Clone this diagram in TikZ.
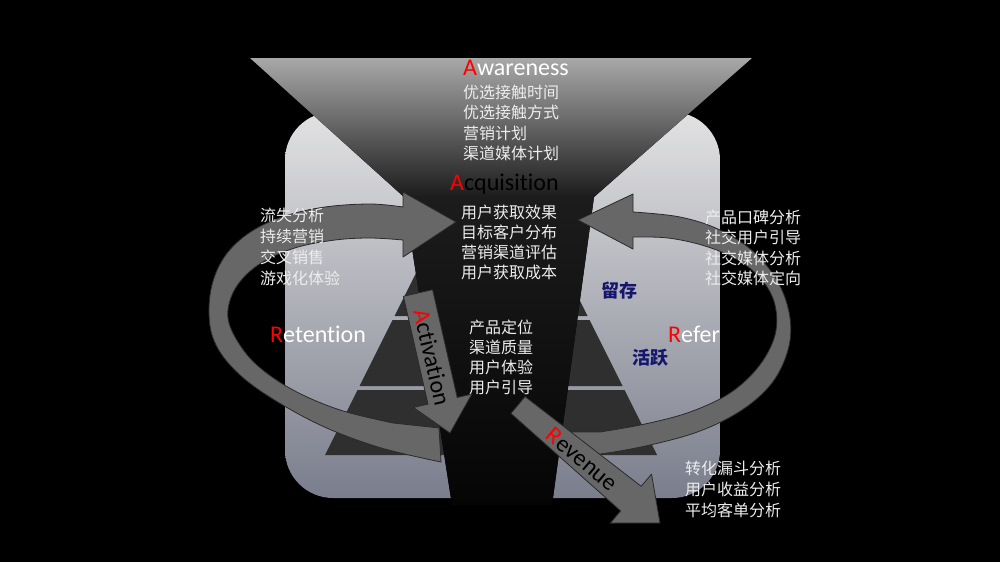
\documentclass[tikz,border=0pt]{standalone}
\usepackage{fontspec}
\setmainfont{Carlito}[Ligatures=NoCommon]
\newfontfamily\cjk{Noto Sans CJK SC}
\definecolor{arcfill}{HTML}{676767}
\definecolor{arcedge}{HTML}{2A2A2A}
\definecolor{pyr}{HTML}{2F2F2F}
\definecolor{navy}{HTML}{16166E}
\definecolor{cjkw}{HTML}{EDEDED}
\definecolor{panTop}{HTML}{E2E2E3}
\definecolor{panMid}{HTML}{BCBEC6}
\definecolor{panBot}{HTML}{7A7D8C}
\definecolor{funTop}{HTML}{A8A8A8}
\definecolor{funBot}{HTML}{1C1C1C}
\definecolor{stemTop}{HTML}{1C1C1C}
\definecolor{stemBot}{HTML}{050505}
\tikzset{
  band/.style={fill=arcfill, draw=arcedge, line width=0.8pt, line join=round},
  cjktxt/.style={font=\cjk\fontsize{16}{19}\selectfont, text=cjkw, inner sep=0pt, anchor=base west},
  entxt/.style={font=\fontsize{24}{28}\selectfont, inner sep=0pt, anchor=base west},
  arrtxt/.style={font=\fontsize{24}{28}\selectfont, inner sep=0pt, text=black},
  bluelbl/.style={font=\cjk\bfseries\fontsize{18}{20}\selectfont, text=navy, inner sep=0pt},
}
\begin{document}
\begin{tikzpicture}[x=1pt,y=-1pt]
% background
\fill[black] (0,0) rectangle (1000,562);
\useasboundingbox (0,0) rectangle (1000,562);
% panel
\fill[top color=panTop, middle color=panMid, bottom color=panBot, rounded corners=48pt] (285,112) rectangle (720,498);
% pyramid
\fill[pyr] (491,123) -- (587.5,316) -- (394.5,316) -- cycle;
\fill[pyr] (392.5,320) -- (589.5,320) -- (622.5,386) -- (359.5,386) -- cycle;
\fill[pyr] (357.5,390) -- (624.5,390) -- (657,455) -- (325,455) -- cycle;
% funnel
\fill[top color=funTop, bottom color=funBot] (250,58) -- (752,58) -- (594,197) -- (404,197) -- cycle;
\fill[top color=stemTop, bottom color=stemBot] (404,197) -- (594,197) -- (552,505) -- (452,505) -- cycle;
% left loop (Retention)
\path[band] plot[smooth, tension=0.6] coordinates {(403,207) (370,204) (325,207) (285,216) (252,231) (228,252) (214,278) (209,308) (213,338) (230,365) (262,392) (318,424) (378,447) (441,462)}
  -- (439,428)
  -- plot[smooth, tension=0.6] coordinates {(393,423) (340,410) (293,390) (258,366) (238,342) (228,318) (232,295) (246,275) (268,259) (298,247) (335,240) (370,238) (403,240)}
  -- (403,257) -- (456,222) -- (403,192) -- cycle;
% right loop (Refer)
\path[band] plot[smooth, tension=0.6] coordinates {(633,212) (680,217) (720,230) (755,253) (779,284) (790,318) (788,350) (772,383) (742,410) (700,431) (650,445) (600,454) (565,456)}
  -- (565,432)
  -- plot[smooth, tension=0.6] coordinates {(600,432) (645,424) (690,412) (730,393) (759,366) (775,335) (775,305) (762,280) (738,260) (705,246) (668,238) (633,237)}
  -- (633,249) -- (578,220) -- (633,194) -- cycle;
% Activation arrow
\path[band] (403.4,296.3) -- (432.6,289.7) -- (457.2,397.5) -- (471.8,394.1) -- (450,433) -- (413.4,407.5) -- (428.0,404.1) -- cycle;
\node[arrtxt, rotate=-77] (actl) at (432,357) {\textcolor{red}{A}ctivation};
% Revenue arrow
\path[band] (510.9,413.4) -- (525.1,396.6) -- (641.2,486.3) -- (651.5,474.1) -- (660,523) -- (610.3,523.1) -- (620.6,510.9) -- cycle;
\node[arrtxt, rotate=-40] (revl) at (582,459) {\textcolor{red}{R}evenue};
% titles
\node[entxt, text=white] (awl) at (463,75) {\textcolor{red}{A}wareness};
\node[entxt, text=black] (acql) at (450,190) {\textcolor{red}{A}cquisition};
\node[entxt, text=white] (retl) at (270,342) {\textcolor{red}{R}etention};
\node[entxt, text=white] (refl) at (668,342) {\textcolor{red}{R}efer};
% blue labels
\node[bluelbl] (liucun) at (619,291) {留存};
\node[bluelbl] (huoyue) at (650,358) {活跃};
% CJK text blocks
\foreach \t [count=\i] in {优选接触时间,优选接触方式,营销计划,渠道媒体计划}
  \node[cjktxt] (aw\i) at (463,{98+20.5*(\i-1)}) {\t};
\foreach \t [count=\i] in {用户获取效果,目标客户分布,营销渠道评估,用户获取成本}
  \node[cjktxt] (aq\i) at (461,{218+20.3*(\i-1)}) {\t};
\foreach \t [count=\i] in {产品定位,渠道质量,用户体验,用户引导}
  \node[cjktxt] (ac\i) at (469,{333+20.3*(\i-1)}) {\t};
\foreach \t [count=\i] in {流失分析,持续营销,交叉销售,游戏化体验}
  \node[cjktxt] (rt\i) at (260,{221+21*(\i-1)}) {\t};
\foreach \t [count=\i] in {产品口碑分析,社交用户引导,社交媒体分析,社交媒体定向}
  \node[cjktxt] (rf\i) at (705,{223+20.5*(\i-1)}) {\t};
\foreach \t [count=\i] in {转化漏斗分析,用户收益分析,平均客单分析}
  \node[cjktxt] (rv\i) at (685,{474+21*(\i-1)}) {\t};
\end{tikzpicture}
\end{document}
